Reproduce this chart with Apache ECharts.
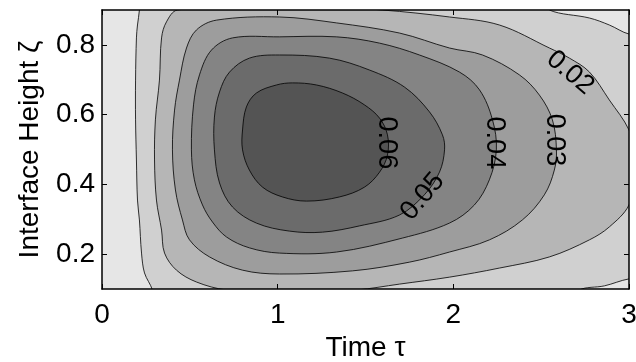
<!DOCTYPE html>
<html>
<head>
<meta charset="utf-8">
<script src="https://cdn.jsdelivr.net/npm/echarts@6/dist/echarts.min.js"></script>
<style>
  html, body { margin: 0; padding: 0; background: #fff; }
  #chart { width: 636px; height: 362px; }
</style>
</head>
<body>
<div id="chart"></div>
<script>
// contour levels and the gray of the band above each one (background is below 0.01)
var levels = [0.01, 0.02, 0.03, 0.04, 0.05, 0.06];
var bandColors = ['#d0d0d0', '#b6b6b6', '#9d9d9d', '#848484', '#6b6b6b', '#545454'];
var backgroundColor = '#e6e6e6';

// contour outlines, [time, height]
// 0.01 and 0.02 leave the plot box, so their outlines run a little outside it
var contour001 = [[0.213,0.900],[0.202,0.857],[0.196,0.820],[0.191,0.699],[0.191,0.585],[0.196,0.470],
  [0.202,0.355],[0.213,0.298],[0.225,0.203],[0.242,0.146],[0.287,0.097],[0.287,0.068],[2.718,0.068],
  [2.718,0.097],[2.860,0.109],[3.000,0.129],[3.088,0.129],[3.088,0.831],[3.000,0.831],[2.888,0.857],
  [2.775,0.877],[2.547,0.900],[2.547,0.929],[0.213,0.929]];
var contour002 = [[0.430,0.900],[0.367,0.866],[0.339,0.820],[0.327,0.699],[0.304,0.585],[0.299,0.470],
  [0.310,0.355],[0.339,0.269],[0.356,0.203],[0.424,0.154],[0.538,0.120],[0.709,0.097],[1.067,0.083],
  [1.449,0.097],[1.693,0.114],[1.978,0.134],[2.262,0.160],[2.547,0.192],[2.775,0.241],[2.888,0.278],
  [3.000,0.341],[3.059,0.456],[3.000,0.556],[2.888,0.642],[2.775,0.722],[2.661,0.762],[2.547,0.791],
  [2.262,0.857],[1.978,0.880],[1.596,0.900],[1.010,0.917]];
var contour003 = [[1.010,0.880],[0.652,0.871],[0.538,0.843],[0.481,0.791],[0.441,0.699],[0.413,0.613],
  [0.401,0.499],[0.418,0.384],[0.458,0.298],[0.498,0.241],[0.612,0.192],[0.800,0.154],[1.010,0.143],
  [1.426,0.152],[1.750,0.177],[1.978,0.206],[2.206,0.241],[2.393,0.298],[2.518,0.370],[2.575,0.441],
  [2.587,0.499],[2.564,0.585],[2.490,0.656],[2.376,0.714],[2.166,0.771],[1.978,0.791],[1.693,0.834],
  [1.335,0.863]];
var contour004 = [[1.010,0.823],[0.743,0.820],[0.623,0.785],[0.555,0.714],[0.521,0.628],[0.509,0.499],
  [0.526,0.413],[0.572,0.341],[0.629,0.292],[0.709,0.249],[0.839,0.218],[1.010,0.203],[1.335,0.206],
  [1.710,0.246],[1.978,0.289],[2.120,0.341],[2.205,0.413],[2.245,0.499],[2.223,0.585],[2.149,0.671],
  [2.035,0.722],[1.807,0.771],[1.580,0.805],[1.335,0.823]];
var contour005 = [[1.010,0.771],[0.839,0.762],[0.726,0.722],[0.669,0.665],[0.640,0.593],[0.640,0.499],
  [0.669,0.404],[0.743,0.335],[0.879,0.289],[1.067,0.266],[1.255,0.263],[1.466,0.281],[1.693,0.312],
  [1.835,0.370],[1.921,0.435],[1.950,0.499],[1.938,0.542],[1.864,0.608],[1.722,0.679],[1.522,0.728],
  [1.295,0.762]];
var contour006 = [[0.800,0.556],[0.822,0.622],[0.879,0.662],[0.993,0.685],[1.084,0.691],[1.221,0.685],
  [1.369,0.662],[1.494,0.628],[1.580,0.590],[1.625,0.542],[1.625,0.484],[1.580,0.435],[1.494,0.392],
  [1.352,0.364],[1.164,0.352],[1.027,0.364],[0.914,0.392],[0.839,0.441],[0.800,0.499]];
var contours = [contour001, contour002, contour003, contour004, contour005, contour006];

// inline contour labels
var labelText = ['0.02', '0.03', '0.04', '0.05', '0.06'];
var labelX = [2.665, 2.577, 2.236, 1.825, 1.621];
var labelY = [0.720, 0.527, 0.519, 0.365, 0.519];
var labelAngle = [-40, -90, -90, 50, -90];

var xTicks = [0, 1, 2, 3];
var yTicks = [0.2, 0.4, 0.6, 0.8];

var font = '"Liberation Sans", Arial, Helvetica, sans-serif';

var series = contours.map(function (pts, i) {
  return {
    type: 'custom',
    name: String(levels[i]),
    coordinateSystem: 'cartesian2d',
    clip: true,
    silent: true,
    data: pts,
    renderItem: function (params, api) {
      if (params.dataIndex !== 0) return null;
      return {
        type: 'polygon',
        shape: { points: pts.map(function (p) { return api.coord(p); }), smooth: 0.35 },
        style: { fill: bandColors[i], stroke: '#000', lineWidth: 0.8 }
      };
    }
  };
});

series.push({
  type: 'custom',
  coordinateSystem: 'cartesian2d',
  silent: true,
  data: labelX.map(function (x, i) { return [x, labelY[i]]; }),
  renderItem: function (params, api) {
    var p = api.coord([api.value(0), api.value(1)]);
    var i = params.dataIndex;
    return {
      type: 'text',
      x: p[0],
      y: p[1],
      rotation: labelAngle[i] * Math.PI / 180,
      style: {
        text: labelText[i],
        fill: '#000',
        font: '27px ' + font,
        align: 'center',
        verticalAlign: 'middle'
      }
    };
  }
});

function xAxis(pos, showLabel) {
  return {
    type: 'value', position: pos, min: 0, max: 3, interval: 1, z: 10,
    name: showLabel ? 'Time τ' : '', nameLocation: 'middle', nameGap: 44,
    nameTextStyle: { fontSize: 28, color: '#000', fontFamily: font },
    axisLine: { show: true, onZero: false, lineStyle: { color: '#000', width: 1.5 } },
    axisTick: { show: true, inside: true, length: 5, lineStyle: { color: '#000', width: 1 } },
    axisLabel: { show: showLabel, fontSize: 28, color: '#000', fontFamily: font, margin: 12,
      customValues: xTicks },
    splitLine: { show: false }
  };
}
function yAxis(pos, showLabel) {
  return {
    type: 'value', position: pos, min: 0.1, max: 0.9, z: 10,
    name: showLabel ? 'Interface Height ζ' : '', nameLocation: 'middle', nameGap: 58,
    nameTextStyle: { fontSize: 28, color: '#000', fontFamily: font },
    axisLine: { show: true, onZero: false, lineStyle: { color: '#000', width: 1.5 } },
    axisTick: { show: true, inside: true, length: 5, lineStyle: { color: '#000', width: 1 },
      customValues: yTicks },
    axisLabel: { show: showLabel, fontSize: 28, color: '#000', fontFamily: font, margin: 7,
      customValues: yTicks, formatter: function (v) { return v.toFixed(1); } },
    splitLine: { show: false }
  };
}

var chart = echarts.init(document.getElementById('chart'));
chart.setOption({
  animation: false,
  backgroundColor: '#fff',
  grid: { left: 102, right: 7, top: 10, bottom: 73, show: true, outerBoundsMode: 'none',
    backgroundColor: backgroundColor, borderWidth: 0 },
  xAxis: [xAxis('bottom', true), xAxis('top', false)],
  yAxis: [yAxis('left', true), yAxis('right', false)],
  series: series
});
</script>
</body>
</html>
